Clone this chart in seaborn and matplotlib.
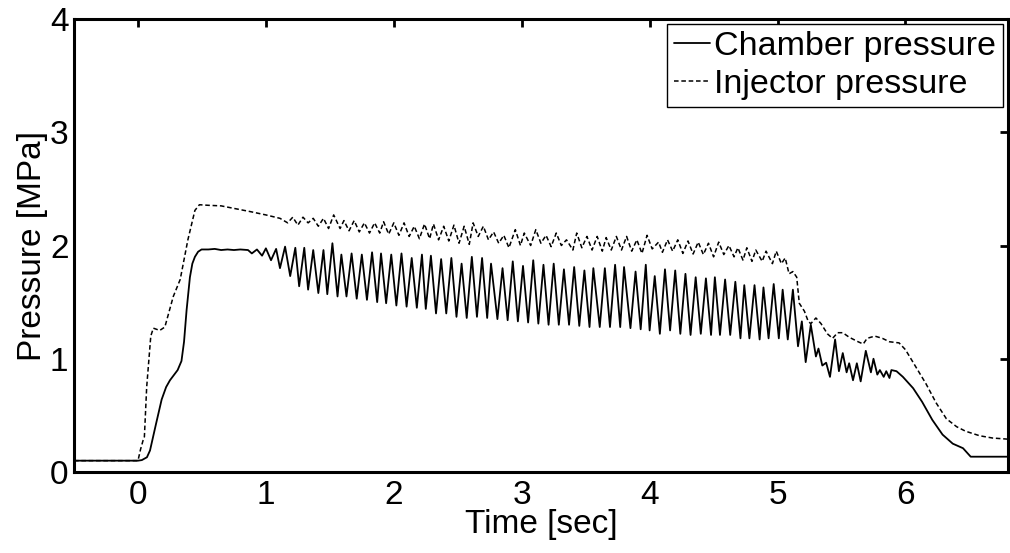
import numpy as np
import pandas as pd
import matplotlib
matplotlib.use("Agg")
import matplotlib.pyplot as plt
import seaborn as sns

# ---------------- data ----------------
# Chamber pressure: start-up ramp
chamber_ramp_t = [-0.5, 0.0, 0.03, 0.07, 0.094, 0.14, 0.185, 0.22, 0.25, 0.31, 0.34, 0.36,
                  0.38, 0.406, 0.425, 0.445, 0.47, 0.497, 0.55, 0.60, 0.65, 0.70, 0.75, 0.80]
chamber_ramp_p = [0.10, 0.10, 0.105, 0.13, 0.19, 0.42, 0.64, 0.75, 0.81, 0.90, 0.98, 1.15,
                  1.43, 1.72, 1.84, 1.90, 1.945, 1.965, 1.965, 1.97, 1.96, 1.965, 1.96, 1.965]
# Chamber pressure: oscillation peaks
chamber_peak_t = [0.86, 0.93, 1.00, 1.08, 1.15, 1.23, 1.30, 1.37, 1.45, 1.52, 1.59, 1.67,
                  1.75, 1.83, 1.90, 1.98, 2.06, 2.14, 2.22, 2.29, 2.37, 2.45, 2.53, 2.61,
                  2.69, 2.76, 2.85, 2.93, 3.01, 3.09, 3.17, 3.25, 3.33, 3.41, 3.49, 3.56,
                  3.65, 3.73, 3.80, 3.89, 3.97, 4.04, 4.12, 4.20, 4.28, 4.36, 4.44, 4.51,
                  4.59, 4.67, 4.74, 4.82, 4.89, 4.97, 5.04, 5.12]
chamber_peak_p = [1.96, 1.965, 1.975, 1.97, 1.99, 1.98, 1.98, 1.96, 1.96, 2.02, 1.92, 1.93,
                  1.92, 1.94, 1.93, 1.92, 1.93, 1.89, 1.92, 1.91, 1.88, 1.89, 1.84, 1.90,
                  1.89, 1.84, 1.80, 1.86, 1.82, 1.87, 1.83, 1.84, 1.79, 1.81, 1.78, 1.80,
                  1.80, 1.83, 1.81, 1.77, 1.83, 1.73, 1.79, 1.78, 1.75, 1.72, 1.71, 1.72,
                  1.70, 1.68, 1.65, 1.65, 1.63, 1.66, 1.61, 1.61]
# Chamber pressure: oscillation troughs
chamber_trough_t = [0.89, 0.97, 1.04, 1.11, 1.19, 1.26, 1.33, 1.41, 1.48, 1.56, 1.63, 1.71,
                    1.79, 1.87, 1.94, 2.02, 2.10, 2.18, 2.25, 2.33, 2.41, 2.49, 2.57, 2.65,
                    2.73, 2.81, 2.89, 2.97, 3.05, 3.13, 3.21, 3.29, 3.37, 3.45, 3.53, 3.61,
                    3.69, 3.77, 3.85, 3.93, 4.00, 4.08, 4.16, 4.24, 4.32, 4.40, 4.48, 4.55,
                    4.63, 4.71, 4.78, 4.86, 4.93, 5.01, 5.08]
chamber_trough_p = [1.93, 1.91, 1.87, 1.80, 1.73, 1.64, 1.61, 1.58, 1.57, 1.55, 1.55, 1.53,
                    1.52, 1.50, 1.49, 1.47, 1.46, 1.45, 1.44, 1.40, 1.40, 1.37, 1.36, 1.37,
                    1.36, 1.35, 1.34, 1.33, 1.32, 1.31, 1.30, 1.30, 1.30, 1.29, 1.28, 1.28,
                    1.28, 1.28, 1.27, 1.26, 1.25, 1.22, 1.25, 1.22, 1.21, 1.22, 1.21, 1.21,
                    1.21, 1.18, 1.18, 1.17, 1.18, 1.18, 1.17]
# Chamber pressure: shut-down
chamber_tail_t = [5.16, 5.19, 5.22, 5.26, 5.30, 5.32, 5.35, 5.38, 5.41, 5.45, 5.48, 5.51,
                  5.54, 5.56, 5.59, 5.62, 5.65, 5.69, 5.73, 5.75, 5.78, 5.80, 5.83, 5.85,
                  5.875, 5.89, 5.93, 5.98, 6.06, 6.13, 6.21, 6.29, 6.37, 6.45, 6.51, 6.80]
chamber_tail_p = [1.11, 1.33, 0.97, 1.30, 1.02, 1.09, 0.94, 0.965, 0.84, 1.17, 0.89, 1.05,
                  0.88, 0.96, 0.81, 0.96, 0.80, 1.07, 0.88, 1.00, 0.86, 0.90, 0.84, 0.89,
                  0.83, 0.90, 0.89, 0.84, 0.74, 0.62, 0.46, 0.33, 0.25, 0.21, 0.135, 0.135]

# Injector pressure: start-up ramp
injector_ramp_t = [-0.5, 0.0, 0.02, 0.04, 0.05, 0.068, 0.10, 0.12, 0.17, 0.21, 0.276,
                   0.33, 0.39, 0.445, 0.48, 0.55, 0.65, 0.74, 0.875, 1.00, 1.11]
injector_ramp_p = [0.10, 0.10, 0.20, 0.28, 0.31, 0.75, 1.20, 1.27, 1.25, 1.28, 1.55,
                   1.70, 2.05, 2.31, 2.36, 2.355, 2.35, 2.33, 2.30, 2.27, 2.24]
# Injector pressure: oscillation peaks
injector_peak_t = [1.21, 1.29, 1.37, 1.45, 1.53, 1.61, 1.69, 1.77, 1.85, 1.92, 2.00, 2.08,
                   2.16, 2.24, 2.31, 2.39, 2.47, 2.55, 2.62, 2.70, 2.78, 2.86, 2.95, 3.02,
                   3.11, 3.19, 3.27, 3.35, 3.43, 3.51, 3.59, 3.66, 3.74, 3.82, 3.90, 3.98,
                   4.07, 4.14, 4.22, 4.30, 4.38, 4.46, 4.54, 4.62, 4.69, 4.76, 4.83, 4.91,
                   4.99, 5.06]
injector_peak_p = [2.25, 2.25, 2.24, 2.24, 2.27, 2.22, 2.22, 2.20, 2.20, 2.21, 2.20, 2.20,
                   2.17, 2.19, 2.19, 2.17, 2.18, 2.17, 2.20, 2.17, 2.12, 2.09, 2.14, 2.11,
                   2.14, 2.09, 2.11, 2.05, 2.11, 2.08, 2.08, 2.07, 2.08, 2.08, 2.05, 2.09,
                   2.03, 2.05, 2.05, 2.04, 2.03, 2.02, 2.03, 2.00, 1.98, 1.98, 1.96, 1.95,
                   1.95, 1.89]
# Injector pressure: oscillation troughs
injector_trough_t = [1.17, 1.25, 1.33, 1.41, 1.49, 1.58, 1.65, 1.73, 1.81, 1.89, 1.96, 2.04,
                     2.12, 2.20, 2.28, 2.35, 2.43, 2.51, 2.59, 2.66, 2.74, 2.82, 2.90, 2.99,
                     3.07, 3.15, 3.23, 3.31, 3.40, 3.47, 3.55, 3.63, 3.70, 3.78, 3.86, 3.94,
                     4.02, 4.10, 4.18, 4.26, 4.34, 4.42, 4.50, 4.58, 4.66, 4.73, 4.80, 4.88,
                     4.96, 5.03]
injector_trough_p = [2.20, 2.18, 2.20, 2.17, 2.15, 2.15, 2.13, 2.12, 2.11, 2.11, 2.10, 2.09,
                     2.08, 2.06, 2.06, 2.05, 2.04, 2.02, 2.01, 2.08, 2.05, 2.02, 1.98, 2.00,
                     2.00, 2.02, 1.99, 2.00, 1.96, 1.98, 1.96, 1.95, 1.96, 1.96, 1.95, 1.93,
                     1.97, 1.94, 1.95, 1.93, 1.925, 1.92, 1.90, 1.92, 1.90, 1.87, 1.86, 1.86,
                     1.84, 1.84]
# Injector pressure: shut-down
injector_tail_t = [5.09, 5.12, 5.15, 5.17, 5.21, 5.24, 5.26, 5.30, 5.34, 5.39, 5.43, 5.47,
                   5.51, 5.56, 5.63, 5.67, 5.70, 5.76, 5.82, 5.875, 5.95, 6.00, 6.08, 6.16,
                   6.24, 6.32, 6.40, 6.47, 6.58, 6.68, 6.80]
injector_tail_p = [1.75, 1.77, 1.72, 1.49, 1.42, 1.33, 1.31, 1.36, 1.31, 1.22, 1.18, 1.23,
                   1.23, 1.19, 1.15, 1.13, 1.18, 1.20, 1.18, 1.15, 1.14, 1.08, 0.93, 0.78,
                   0.61, 0.47, 0.40, 0.36, 0.32, 0.30, 0.29]

series_names = ["Chamber pressure", "Injector pressure"]
x_ticks = [0, 1, 2, 3, 4, 5, 6]
y_ticks = [0, 1, 2, 3, 4]


def assemble(ramp_t, ramp_p, pk_t, pk_p, tr_t, tr_p, tail_t, tail_p):
    t = np.concatenate([ramp_t, pk_t, tr_t, tail_t])
    p = np.concatenate([ramp_p, pk_p, tr_p, tail_p])
    order = np.argsort(t, kind="stable")
    return t[order], p[order]


ct, cp = assemble(chamber_ramp_t, chamber_ramp_p, chamber_peak_t, chamber_peak_p,
                  chamber_trough_t, chamber_trough_p, chamber_tail_t, chamber_tail_p)
it, ip = assemble(injector_ramp_t, injector_ramp_p, injector_peak_t, injector_peak_p,
                  injector_trough_t, injector_trough_p, injector_tail_t, injector_tail_p)

df_c = pd.DataFrame({"t": ct, "p": cp})
df_i = pd.DataFrame({"t": it, "p": ip})

# ---------------- plotting ----------------
sns.set_theme(style="white")
plt.rcParams["font.family"] = ["Liberation Sans", "DejaVu Sans"]
plt.rcParams["text.color"] = "black"
plt.rcParams["axes.labelcolor"] = "black"
plt.rcParams["lines.solid_joinstyle"] = "round"
plt.rcParams["lines.dash_joinstyle"] = "round"

fig = plt.figure(figsize=(10.10, 5.53), dpi=100)
ax = fig.add_axes([0.0733, 0.1465, 0.9245, 0.8191])

sns.lineplot(data=df_c, x="t", y="p", ax=ax, color="black", linewidth=1.3,
             sort=False, estimator=None, label=series_names[0])
sns.lineplot(data=df_i, x="t", y="p", ax=ax, color="black", linewidth=1.1,
             sort=False, estimator=None, label=series_names[1],
             linestyle=(0, (3.0, 1.8)))

ax.set_xlim(-0.5, 6.8)
ax.set_ylim(0, 4)
ax.set_xticks(x_ticks)
ax.set_yticks(y_ticks)
ax.set_xticklabels([str(v) for v in x_ticks])
ax.set_yticklabels([str(v) for v in y_ticks])
ax.set_xlabel("Time [sec]", fontsize=24, color="black", labelpad=-2)
ax.set_ylabel("Pressure [MPa]", fontsize=24, color="black", labelpad=1)

for s in ax.spines.values():
    s.set_visible(True)
    s.set_color("black")
    s.set_linewidth(2.2)
ax.tick_params(axis="both", which="major", direction="in", length=6, width=2,
               labelsize=24, colors="black", top=True, right=True, pad=4)
ax.tick_params(axis="x", pad=6)

leg = ax.legend(loc="upper right", fontsize=24.5, frameon=True, fancybox=False,
                handlelength=1.05, handletextpad=0.12, borderpad=0.2,
                labelspacing=0.2, borderaxespad=0.15)
leg.get_frame().set_edgecolor("black")
leg.get_frame().set_linewidth(1.0)
leg.get_frame().set_alpha(1.0)
for txt in leg.get_texts():
    txt.set_color("black")

fig.savefig("out.png", dpi=100, facecolor="white")
